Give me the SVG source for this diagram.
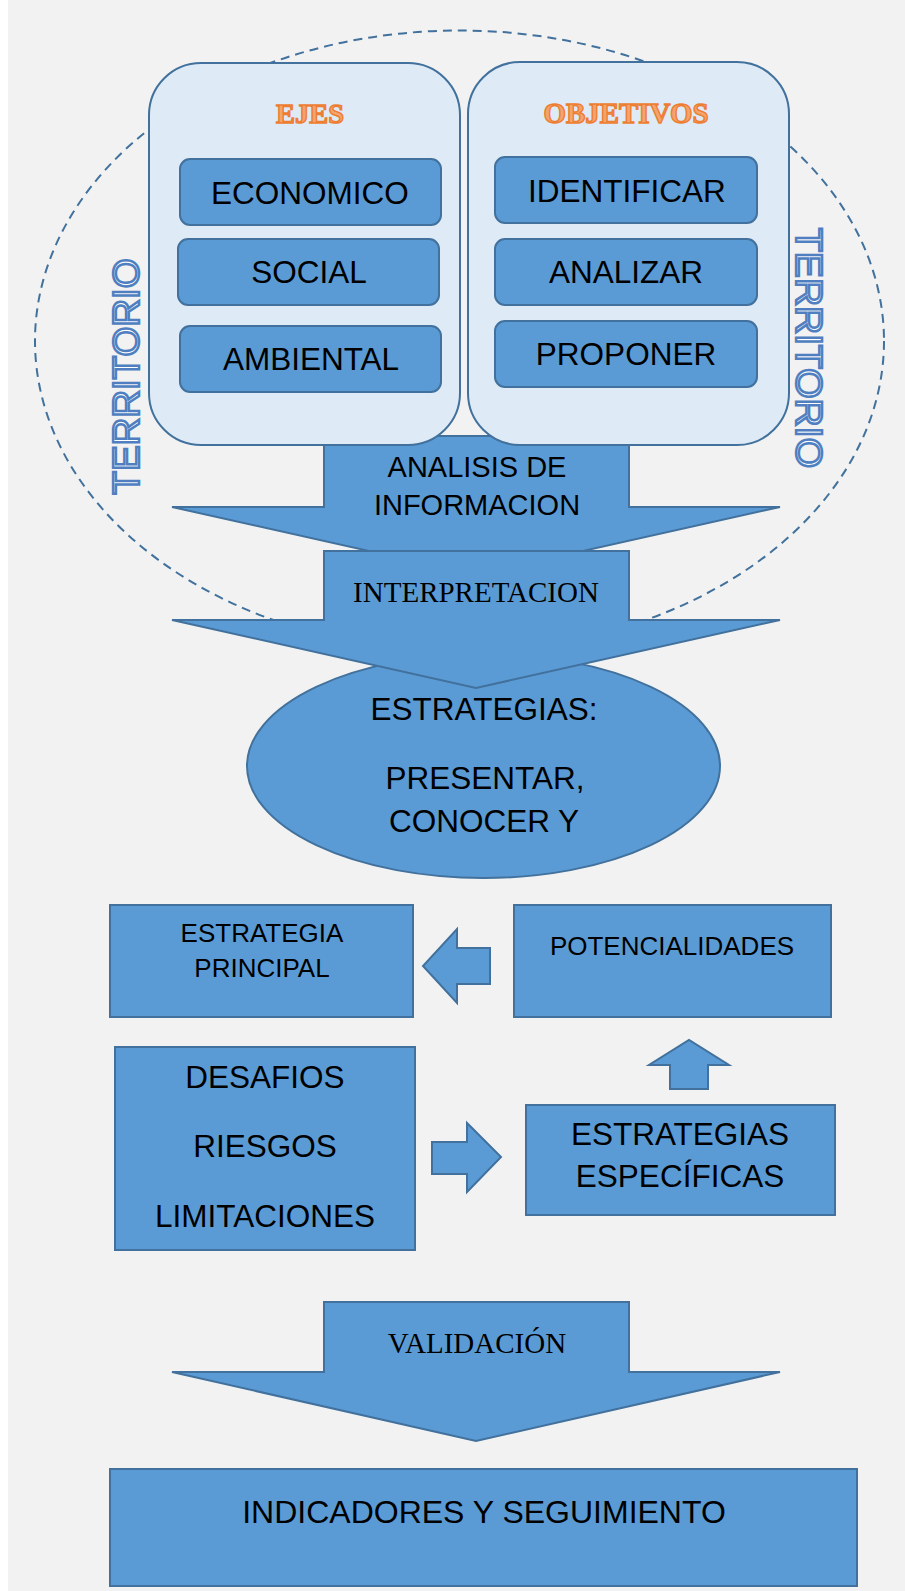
<svg xmlns="http://www.w3.org/2000/svg" width="905" height="1591" viewBox="0 0 905 1591">
<style>
.bg{fill:#f2f2f2}
.panel{fill:#deeaf6;stroke:#41719c;stroke-width:2}
.box{fill:#5b9bd5;stroke:#41719c;stroke-width:2}
.t{font-family:"Liberation Sans",Arial,sans-serif;fill:#000;text-anchor:middle}
.s{font-family:"Liberation Serif","Times New Roman",serif;fill:#000;text-anchor:middle}
.title{font-family:"Liberation Serif","Times New Roman",serif;font-weight:bold;fill:#f4a46c;stroke:#ed7d31;stroke-width:1.4;text-anchor:middle}
.terr{font-family:"Liberation Sans",Arial,sans-serif;font-size:37px;fill:#ffffff;stroke:#4f7fc0;stroke-width:2.4;text-anchor:middle}
.dash{fill:none;stroke:#41719c;stroke-width:2;stroke-dasharray:9 6}
</style>
<rect x="0" y="0" width="905" height="1591" fill="#ffffff"/>
<rect class="bg" x="8" y="0" width="897" height="1591"/>

<g id="territorio-ellipse">
<ellipse class="dash" cx="459.5" cy="341" rx="424.5" ry="310.5"/>
</g>

<g id="analisis">
<path class="box" d="M324,436 L629,436 L629,507 L780,507 L476,575 L172,507 L324,507 Z"/>
<text class="t" x="477" y="477" font-size="29">ANALISIS DE</text>
<text class="t" x="477" y="515" font-size="29">INFORMACION</text>
</g>

<g id="ejes">
<rect class="panel" x="149" y="63" width="311" height="382" rx="52" ry="52"/>
<text class="title" x="310" y="123" font-size="28" textLength="68" lengthAdjust="spacingAndGlyphs">EJES</text>
</g>
<g id="economico">
<rect class="box" x="180" y="159" width="261" height="66" rx="10"/>
<text class="t" x="310" y="204" font-size="31.5">ECONOMICO</text>
</g>
<g id="social">
<rect class="box" x="178" y="239" width="261" height="66" rx="10"/>
<text class="t" x="309" y="283" font-size="31.5">SOCIAL</text>
</g>
<g id="ambiental">
<rect class="box" x="180" y="326" width="261" height="66" rx="10"/>
<text class="t" x="311" y="370" font-size="31.5">AMBIENTAL</text>
</g>

<g id="objetivos">
<rect class="panel" x="468" y="62" width="321" height="383" rx="52" ry="52"/>
<text class="title" x="626" y="123" font-size="29" textLength="165" lengthAdjust="spacingAndGlyphs">OBJETIVOS</text>
</g>
<g id="identificar">
<rect class="box" x="495" y="157" width="262" height="66" rx="10"/>
<text class="t" x="627" y="202" font-size="31.5">IDENTIFICAR</text>
</g>
<g id="analizar">
<rect class="box" x="495" y="239" width="262" height="66" rx="10"/>
<text class="t" x="626" y="283" font-size="31.5">ANALIZAR</text>
</g>
<g id="proponer">
<rect class="box" x="495" y="321" width="262" height="66" rx="10"/>
<text class="t" x="626" y="365" font-size="31.5">PROPONER</text>
</g>

<g id="territorio-left">
<text class="terr" transform="translate(139,376.5) rotate(-90)" x="0" y="0" textLength="236" lengthAdjust="spacingAndGlyphs">TERRITORIO</text>
</g>
<g id="territorio-right">
<text class="terr" transform="translate(796,348) rotate(90)" x="0" y="0" textLength="240" lengthAdjust="spacingAndGlyphs">TERRITORIO</text>
</g>

<g id="estrategias">
<ellipse class="box" cx="483.5" cy="766" rx="236.5" ry="112"/>
<text class="t" x="484" y="720" font-size="31.5">ESTRATEGIAS:</text>
<text class="t" x="485" y="789" font-size="31.5">PRESENTAR,</text>
<text class="t" x="484" y="832" font-size="31.5">CONOCER Y</text>
</g>

<g id="interpretacion">
<path class="box" d="M324,551 L629,551 L629,620 L780,620 L476,688 L172,620 L324,620 Z"/>
<text class="s" x="476" y="602" font-size="29">INTERPRETACION</text>
</g>

<g id="estrategia-principal">
<rect class="box" x="110" y="905" width="303" height="112"/>
<text class="t" x="262" y="942" font-size="26">ESTRATEGIA</text>
<text class="t" x="262" y="977" font-size="26">PRINCIPAL</text>
</g>
<g id="potencialidades">
<rect class="box" x="514" y="905" width="317" height="112"/>
<text class="t" x="672" y="955" font-size="26">POTENCIALIDADES</text>
</g>
<g id="desafios">
<rect class="box" x="115" y="1047" width="300" height="203"/>
<text class="t" x="265" y="1088" font-size="31.5">DESAFIOS</text>
<text class="t" x="265" y="1157" font-size="31.5">RIESGOS</text>
<text class="t" x="265" y="1227" font-size="31.5">LIMITACIONES</text>
</g>
<g id="estrategias-especificas">
<rect class="box" x="526" y="1105" width="309" height="110"/>
<text class="t" x="680" y="1145" font-size="31.5">ESTRATEGIAS</text>
<text class="t" x="680" y="1187" font-size="31.5">ESPECÍFICAS</text>
</g>

<g id="connectors">
<path class="box" d="M490,948 L457,948 L457,929 L423,966 L457,1003 L457,984 L490,984 Z"/>
<path class="box" d="M432,1142 L467,1142 L467,1123 L501,1157 L467,1192 L467,1174 L432,1174 Z"/>
<path class="box" d="M670,1089 L670,1065 L649,1065 L689,1040 L729,1065 L708,1065 L708,1089 Z"/>
</g>

<g id="validacion">
<path class="box" d="M324,1302 L629,1302 L629,1372 L780,1372 L476,1441 L172,1372 L324,1372 Z"/>
<text class="s" x="477" y="1353" font-size="29">VALIDACIÓN</text>
</g>

<g id="indicadores">
<rect class="box" x="110" y="1469" width="747" height="117"/>
<text class="t" x="484" y="1523" font-size="32">INDICADORES Y SEGUIMIENTO</text>
</g>
</svg>
